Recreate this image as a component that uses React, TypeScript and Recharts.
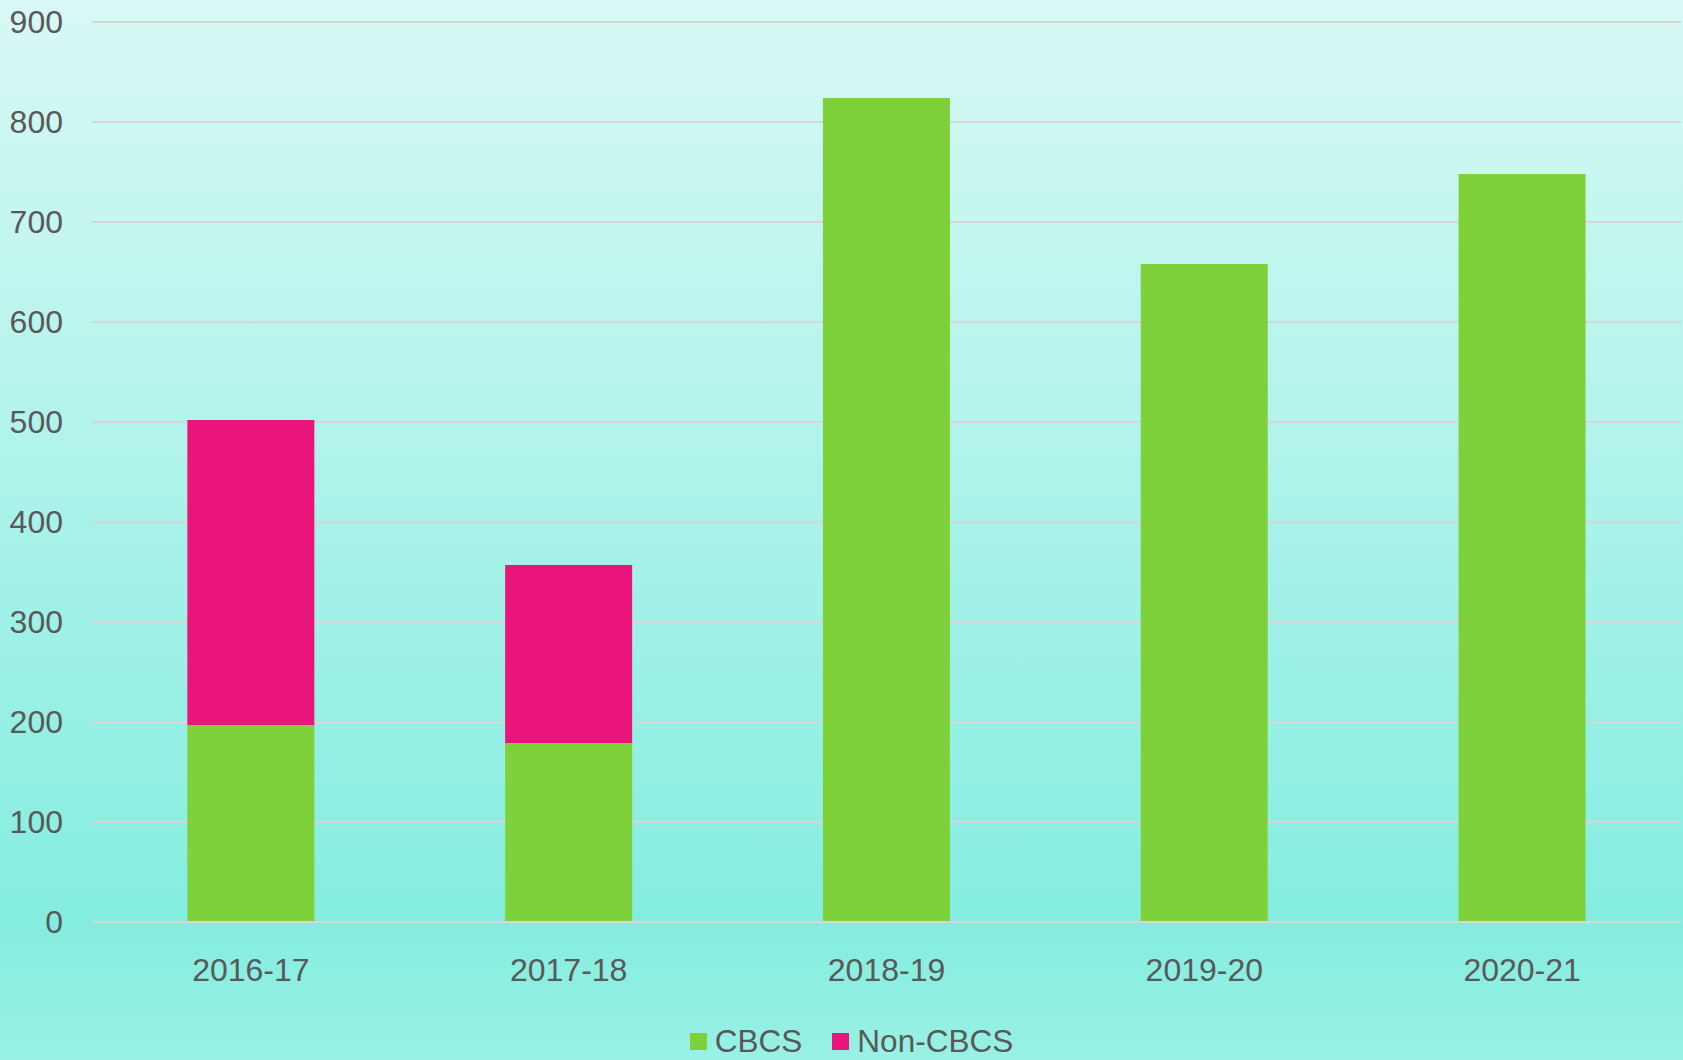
import React from "react";
import {
  BarChart,
  Bar,
  XAxis,
  YAxis,
  CartesianGrid,
  Legend,
} from "recharts";

// valores
const years = ["2016-17", "2017-18", "2018-19", "2019-20", "2020-21"];
const cbcs = [197, 179, 824, 658, 748];
const nonCbcs = [305, 178, null, null, null];
const yTicks = [0, 100, 200, 300, 400, 500, 600, 700, 800, 900];

const data = years.map((year, i) => ({
  year,
  cbcs: cbcs[i],
  nonCbcs: nonCbcs[i],
}));

const textColor = "#595959";
const font = "'Liberation Sans', Arial, sans-serif";

const legendItems = [
  { label: "CBCS", color: "#7fd13b" },
  { label: "Non-CBCS", color: "#ea157a" },
];

function ChartLegend() {
  return (
    <div
      style={{
        height: 38,
        display: "flex",
        alignItems: "center",
        justifyContent: "center",
        marginLeft: 22,
        fontFamily: font,
        fontSize: 31.5,
        color: textColor,
      }}
    >
      {legendItems.map((item, i) => (
        <div
          key={item.label}
          style={{ display: "flex", alignItems: "center", marginLeft: i ? 30 : 0 }}
        >
          <span
            style={{
              width: 17,
              height: 17,
              background: item.color,
              display: "inline-block",
              marginRight: 8,
            }}
          />
          <span>{item.label}</span>
        </div>
      ))}
    </div>
  );
}

export default function App() {
  return (
    <div
      style={{
        position: "absolute",
        left: 0,
        top: 0,
        width: 1683,
        height: 1060,
        background:
          "linear-gradient(to bottom, #d9f9f5 0%, #84ede0 87%, #98f1e4 100%)",
      }}
    >
      <BarChart
        width={1683}
        height={1060}
        data={data}
        barCategoryGap="30%"
        margin={{ top: 22, right: 2, bottom: 0, left: 0 }}
      >
        <CartesianGrid vertical={false} stroke="#d6d6d6" strokeWidth={2} />
        <XAxis
          dataKey="year"
          height={100}
          tickLine={false}
          tickSize={0}
          tickMargin={36}
          axisLine={{ stroke: "#d6d6d6", strokeWidth: 2 }}
          tick={{ fill: textColor, fontSize: 32, fontFamily: font }}
        />
        <YAxis
          width={92}
          domain={[0, 900]}
          ticks={yTicks}
          axisLine={false}
          tickLine={false}
          tickSize={0}
          tickMargin={29}
          tick={{ fill: textColor, fontSize: 32, fontFamily: font }}
        />
        <Legend verticalAlign="bottom" content={() => <ChartLegend />} />
        <Bar dataKey="cbcs" stackId="a" fill="#7fd13b" isAnimationActive={false} />
        <Bar dataKey="nonCbcs" stackId="a" fill="#ea157a" isAnimationActive={false} />
      </BarChart>
    </div>
  );
}
